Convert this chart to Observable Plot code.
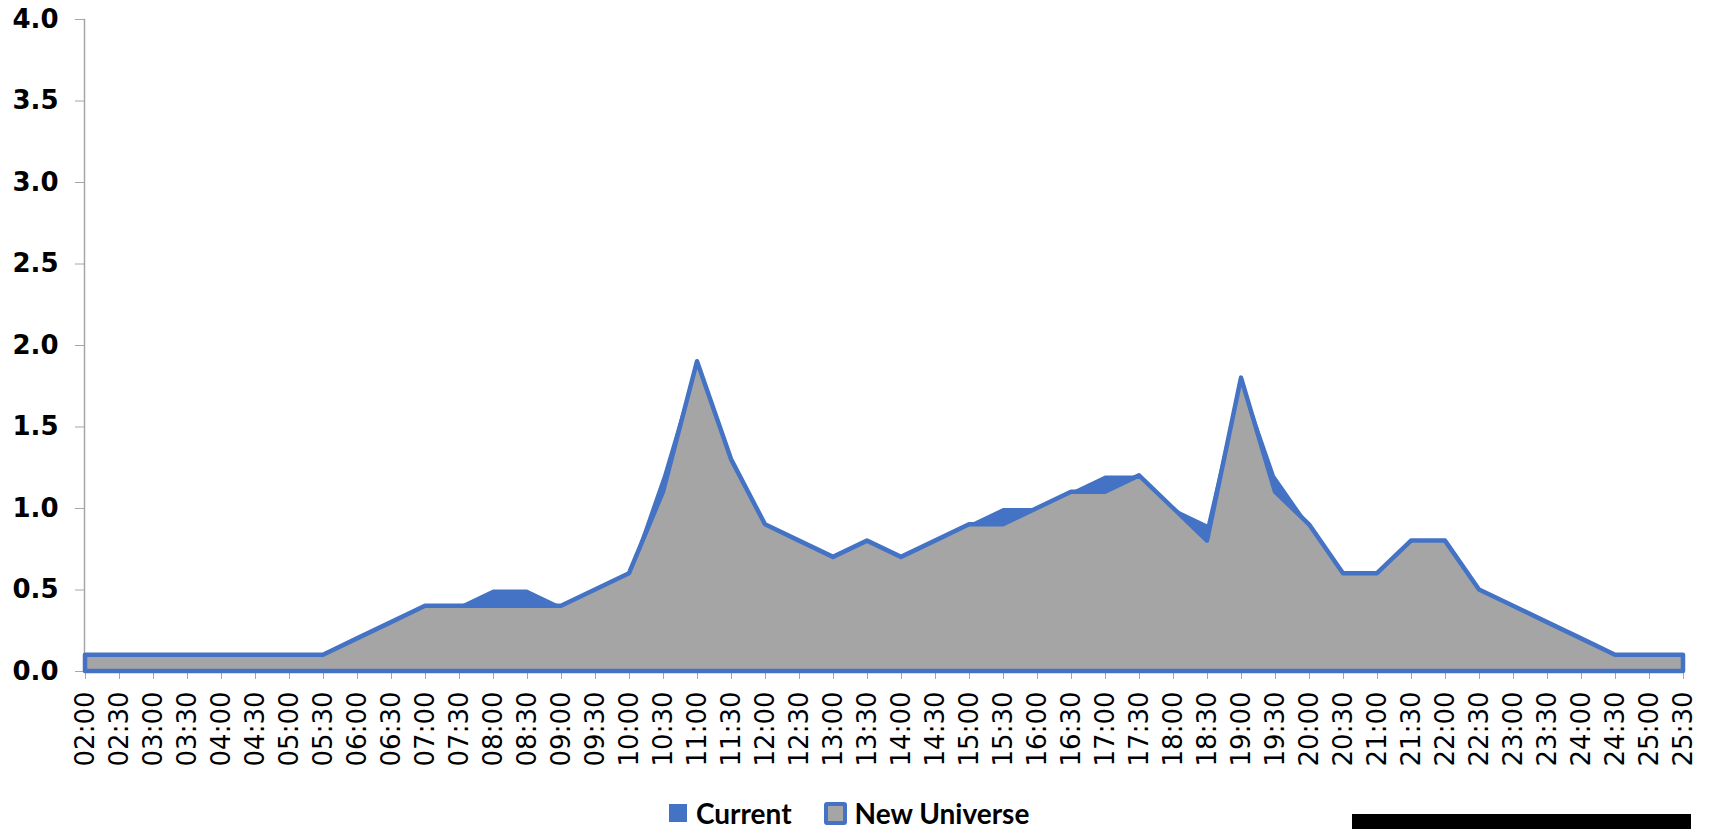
<!DOCTYPE html>
<html>
<head>
<meta charset="utf-8">
<script src="https://cdn.jsdelivr.net/npm/d3@7"></script>
<script src="https://cdn.jsdelivr.net/npm/@observablehq/plot@0.6"></script>
<style>
  html, body { margin: 0; padding: 0; background: #fff; overflow: hidden; }
  #wrap { position: relative; width: 1713px; height: 829px; overflow: hidden; }
  #legend {
    position: absolute; top: 798px; left: 669px; height: 30px; line-height: 30px;
    display: flex; align-items: center;
    font-family: Lato, "Open Sans", sans-serif; font-weight: bold; font-size: 28px; color: #000;
  }
  .sw { display: inline-block; box-sizing: border-box; }
  .sw.cur { width: 18px; height: 18px; background: #4472C4; margin-right: 9px; }
  .sw.nu { width: 23px; height: 23px; background: #A5A5A5; border: 4px solid #4472C4; border-radius: 3px; margin-left: 32px; margin-right: 8px; }
  #srcbox { position: absolute; left: 1352px; top: 814px; width: 339px; height: 15px; background: #000; }
</style>
</head>
<body>
<div id="wrap">
  <div id="chart"></div>
  <div id="legend">
    <span class="sw cur"></span><span>Current</span>
    <span class="sw nu"></span><span>New Universe</span>
  </div>
  <div id="srcbox"></div>
</div>
<script>
// Half-hourly time slots (broadcast day runs past midnight, to 25:30)
const times = [
  "02:00","02:30","03:00","03:30","04:00","04:30","05:00","05:30",
  "06:00","06:30","07:00","07:30","08:00","08:30","09:00","09:30",
  "10:00","10:30","11:00","11:30","12:00","12:30","13:00","13:30",
  "14:00","14:30","15:00","15:30","16:00","16:30","17:00","17:30",
  "18:00","18:30","19:00","19:30","20:00","20:30","21:00","21:30",
  "22:00","22:30","23:00","23:30","24:00","24:30","25:00","25:30"
];

const current = [
  0.1, 0.1, 0.1, 0.1, 0.1, 0.1, 0.1, 0.1,
  0.2, 0.3, 0.4, 0.4, 0.5, 0.5, 0.4, 0.5,
  0.6, 1.2, 1.9, 1.3, 0.9, 0.8, 0.7, 0.8,
  0.7, 0.8, 0.9, 1.0, 1.0, 1.1, 1.2, 1.2,
  1.0, 0.9, 1.8, 1.2, 0.9, 0.6, 0.6, 0.8,
  0.8, 0.5, 0.4, 0.3, 0.2, 0.1, 0.1, 0.1
];

const newUniverse = [
  0.1, 0.1, 0.1, 0.1, 0.1, 0.1, 0.1, 0.1,
  0.2, 0.3, 0.4, 0.4, 0.4, 0.4, 0.4, 0.5,
  0.6, 1.1, 1.9, 1.3, 0.9, 0.8, 0.7, 0.8,
  0.7, 0.8, 0.9, 0.9, 1.0, 1.1, 1.1, 1.2,
  1.0, 0.8, 1.8, 1.1, 0.9, 0.6, 0.6, 0.8,
  0.8, 0.5, 0.4, 0.3, 0.2, 0.1, 0.1, 0.1
];

const yTicks = [0, 0.5, 1, 1.5, 2, 2.5, 3, 3.5, 4];

const rows = times.map((t, i) => ({time: t, current: current[i], nu: newUniverse[i]}));

const BLUE = "#4472C4";
const GRAY = "#A5A5A5";
const AXIS = "#A6A6A6";

const chart = Plot.plot({
  width: 1713,
  height: 780,
  marginTop: 19,
  marginBottom: 109,
  marginLeft: 84,
  marginRight: 29,
  style: {fontFamily: "'DejaVu Sans', Verdana, sans-serif", background: "#fff"},
  x: {type: "point", domain: times, padding: 0},
  y: {domain: [0, 4]},
  marks: [
    Plot.frame({anchor: "left", stroke: AXIS, strokeWidth: 1.5}),
    Plot.axisY({
      ticks: yTicks, tickFormat: d3.format(".1f"), tickSize: 9, tickPadding: 17,
      fontSize: 26, fontWeight: "bold", stroke: AXIS, fill: "#000", label: null
    }),
    Plot.axisX({
      tickRotate: -90, tickSize: 8, tickPadding: 12, fontSize: 26,
      stroke: AXIS, fill: "#000", label: null
    }),
    Plot.areaY(rows, {x: "time", y: "current", fill: BLUE}),
    Plot.areaY(rows, {
      x: "time", y: "nu", fill: GRAY,
      stroke: BLUE, strokeWidth: 4.5, strokeLinejoin: "round"
    })
  ]
});

document.getElementById("chart").append(chart);
</script>
</body>
</html>
